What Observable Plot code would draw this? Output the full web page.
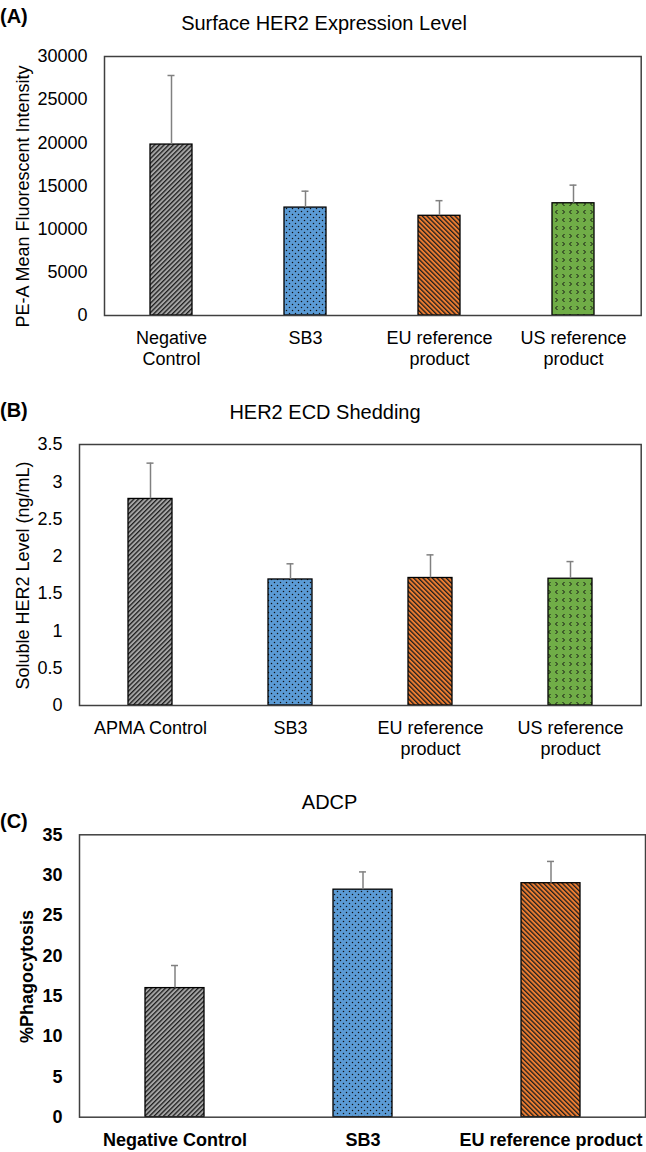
<!DOCTYPE html>
<html><head><meta charset="utf-8">
<script src="https://cdn.jsdelivr.net/npm/d3@7"></script>
<script src="https://cdn.jsdelivr.net/npm/@observablehq/plot@0.6"></script>
<style>
body{margin:0;background:#fff;}
#wrap{position:relative;width:646px;height:1152px;overflow:hidden;font-family:"Liberation Sans",Arial,sans-serif;color:#000;background:#fff;}
.t{position:absolute;white-space:nowrap;line-height:1;}
.panel{position:absolute;left:0;}
</style></head><body><div id="wrap"></div>
<script>
// ---------- DATA ----------
// Panel A
const titleA = "Surface HER2 Expression Level";
const catsA = ["Negative Control", "SB3", "EU reference product", "US reference product"];
const tickLabelsA = ["Negative\nControl", "SB3", "EU reference\nproduct", "US reference\nproduct"];
const meanA = [19800, 12500, 11550, 13000];
const upperA = [27800, 14400, 13300, 15100];
const yTicksA = [0, 5000, 10000, 15000, 20000, 25000, 30000];
const yLabelA = "PE-A Mean Fluorescent Intensity";

// Panel B
const titleB = "HER2 ECD Shedding";
const catsB = ["APMA Control", "SB3", "EU reference product", "US reference product"];
const tickLabelsB = ["APMA Control", "SB3", "EU reference\nproduct", "US reference\nproduct"];
const meanB = [2.77, 1.69, 1.71, 1.70];
const upperB = [3.25, 1.90, 2.02, 1.93];
const yTicksB = [0, 0.5, 1, 1.5, 2, 2.5, 3, 3.5];
const yLabelB = "Soluble HER2 Level (ng/mL)";

// Panel C
const titleC = "ADCP";
const catsC = ["Negative Control", "SB3", "EU reference product"];
const tickLabelsC = ["Negative Control", "SB3", "EU reference product"];
const meanC = [16.0, 28.2, 29.0];
const upperC = [18.8, 30.4, 31.7];
const yTicksC = [0, 5, 10, 15, 20, 25, 30, 35];
const yLabelC = "%Phagocytosis";

const patterns = ["url(#pGrey)", "url(#pBlue)", "url(#pOrange)", "url(#pGreen)"];

// ---------- BUILD ----------
const wrap = document.getElementById("wrap");
wrap.insertAdjacentHTML("beforeend", `
<svg width="0" height="0" style="position:absolute">
 <defs>
  <pattern id="pGrey" patternUnits="userSpaceOnUse" width="3.3" height="3.3" patternTransform="rotate(45)">
    <rect width="3.3" height="3.3" fill="#a5a5a5"/>
    <rect width="1.3" height="3.3" fill="#1e1e1e"/>
  </pattern>
  <pattern id="pOrange" patternUnits="userSpaceOnUse" width="3.3" height="3.3" patternTransform="rotate(-45)">
    <rect width="3.3" height="3.3" fill="#ed7d31"/>
    <rect width="1.3" height="3.3" fill="#1e1e1e"/>
  </pattern>
  <pattern id="pBlue" patternUnits="userSpaceOnUse" width="6" height="6">
    <rect width="6" height="6" fill="#5b9bd5"/>
    <circle cx="1.5" cy="1.5" r="0.75" fill="#111"/>
    <circle cx="4.5" cy="4.5" r="0.75" fill="#111"/>
  </pattern>
  <pattern id="pGreen" patternUnits="userSpaceOnUse" width="14" height="16">
    <rect width="14" height="16" fill="#70ad47"/>
    <g fill="none" stroke="#111" stroke-width="1">
      <path d="M2.5,2 L4.5,4 L2.5,6"/>
      <path d="M11.5,2 L9.5,4 L11.5,6"/>
      <path d="M4.5,10 L2.5,12 L4.5,14"/>
      <path d="M9.5,10 L11.5,12 L9.5,14"/>
    </g>
  </pattern>
 </defs>
</svg>`);

function addText(txt, left, top, size, bold, center) {
  const d = document.createElement("div");
  d.className = "t";
  d.textContent = txt;
  d.style.left = left + "px";
  d.style.top = top + "px";
  d.style.fontSize = size + "px";
  if (bold) d.style.fontWeight = "bold";
  if (center) d.style.transform = "translateX(-50%)";
  wrap.appendChild(d);
}

const PAD = 0.687;
function makePanel(o) {
  const data = o.cats.map((c, i) => ({cat: c, val: o.mean[i], err: o.upper[i], pat: patterns[i]}));
  const labelMap = new Map(o.cats.map((c, i) => [c, o.tickLabels[i]]));
  const plotW = 646 - o.ml - o.mr;
  const bw = plotW / o.cats.length * (1 - PAD);
  const capInset = (bw - 7) / 2;
  const frameMid = o.mt + (o.height - o.mt - o.mb) / 2;
  const svg = Plot.plot({
    width: 646, height: o.height,
    marginTop: o.mt, marginBottom: o.mb, marginLeft: o.ml, marginRight: o.mr,
    style: {fontFamily: '"Liberation Sans", Arial, sans-serif', fontSize: "18px",
            fontWeight: o.bold ? "bold" : "normal", color: "#000", background: "transparent"},
    x: {domain: o.cats, paddingInner: PAD, paddingOuter: PAD / 2, align: 0.5},
    y: {domain: [0, o.yTicks[o.yTicks.length - 1]]},
    color: {type: "identity"},
    marks: [
      Plot.barY(data, {x: "cat", y: "val", fill: "pat", stroke: "#000", strokeWidth: 1.3}),
      Plot.ruleX(data, {x: "cat", y1: "val", y2: "err", stroke: "#808080", strokeWidth: 1.5}),
      Plot.tickY(data, {x: "cat", y: "err", stroke: "#808080", strokeWidth: 1.5, inset: capInset}),
      Plot.axisY({ticks: o.yTicks, tickSize: 0, tickPadding: 17, tickFormat: d => String(d), label: null, fontSize: 18}),
      Plot.axisX({tickSize: 0, tickPadding: o.xPad, tickFormat: c => labelMap.get(c), label: null, fontSize: 18, lineHeight: 1.18}),
      Plot.frame({stroke: "#404040", strokeWidth: 1.5}),
      Plot.text([o.yLabel], {text: d => d, frameAnchor: "left", textAnchor: "middle", lineAnchor: "middle",
        rotate: -90, fontSize: 18, dx: o.labelX - o.ml, dy: o.labelY - o.top - frameMid})
    ]
  });
  svg.classList.add("panel");
  svg.style.top = o.top + "px";
  wrap.appendChild(svg);
}

makePanel({cats: catsA, tickLabels: tickLabelsA, mean: meanA, upper: upperA, yTicks: yTicksA, yLabel: yLabelA,
  top: 0, height: 380, mt: 56, mb: 65, ml: 104, mr: 5.3, labelX: 22.7, labelY: 196, xPad: 13});
makePanel({cats: catsB, tickLabels: tickLabelsB, mean: meanB, upper: upperB, yTicks: yTicksB, yLabel: yLabelB,
  top: 380, height: 390, mt: 64, mb: 65, ml: 79, mr: 5.3, labelX: 22.7, labelY: 575, xPad: 13});
makePanel({cats: catsC, tickLabels: tickLabelsC, mean: meanC, upper: upperC, yTicks: yTicksC, yLabel: yLabelC,
  top: 770, height: 382, mt: 64.3, mb: 35.3, ml: 79, mr: 1, labelX: 26.8, labelY: 976, bold: true, xPad: 14});

// titles and panel letters
addText(titleA, 324, 30 - 0.8465 * 20, 20, false, true);
addText(titleB, 325, 419.3 - 0.8465 * 20, 20, false, true);
addText(titleC, 329.6, 809 - 0.8465 * 20, 20, false, true);
addText("(A)", 0, 22.5 - 0.8465 * 20, 20, true, false);
addText("(B)", 0, 417.3 - 0.8465 * 20, 20, true, false);
addText("(C)", 0, 828.3 - 0.8465 * 20, 20, true, false);
</script>
</body></html>
